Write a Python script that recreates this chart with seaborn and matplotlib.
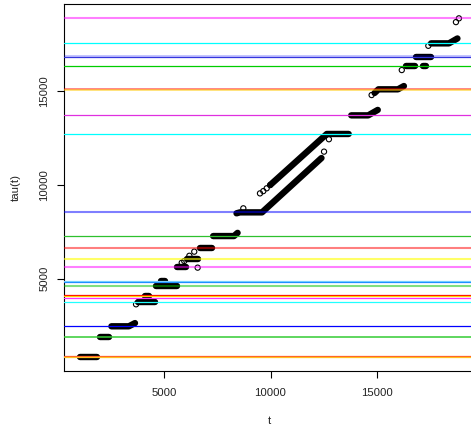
import matplotlib
matplotlib.use("Agg")
import matplotlib.pyplot as plt
import pandas as pd
import seaborn as sns

# Dense runs of tau(t): each run is a polyline through its vertices
run_id = [1, 1,
          2, 2,
          3, 3, 3,
          4, 4,
          5, 5,
          6, 6,
          7, 7,
          8, 8,
          9, 9,
          10, 10,
          11, 11, 11,
          12, 12, 12, 12,
          13, 13, 13,
          14, 14, 14,
          15, 15, 15, 15,
          16, 16,
          17, 17,
          18, 18,
          19, 19, 19]
run_t = [1040, 1820,
         1980, 2420,
         2510, 3330, 3620,
         3770, 4570,
         4090, 4260,
         4600, 5590,
         4860, 5050,
         5620, 6030,
         6050, 6610,
         6670, 7240,
         7300, 8280, 8450,
         8400, 8560, 9600, 12400,
         10000, 12650, 13680,
         13800, 14600, 15050,
         14900, 15080, 16000, 16280,
         16370, 16800,
         17190, 17310,
         16840, 17550,
         17560, 18400, 18800]
run_tau = [850, 850,
           1890, 1890,
           2470, 2470, 2640,
           3760, 3760,
           4100, 4100,
           4590, 4590,
           4870, 4870,
           5600, 5600,
           6060, 6060,
           6650, 6650,
           7270, 7270, 7440,
           8480, 8530, 8530, 11420,
           10000, 12700, 12700,
           13690, 13690, 13980,
           14880, 15075, 15075, 15250,
           16290, 16290,
           16290, 16290,
           16810, 16810,
           17520, 17520, 17780]

# Isolated observations
pt_t = [3670, 5820, 5940, 6180, 6410, 6570, 8720, 9505, 9660, 9820, 9980,
        12520, 12750, 14760, 16180, 17430, 18730, 18870]
pt_tau = [3640, 5850, 5940, 6220, 6440, 5590, 8745, 9540, 9660, 9810, 9980,
          11760, 12420, 14770, 16100, 17390, 18650, 18850]

# Reference levels
level_tau = [18867, 17521, 16840, 16775, 16298, 15106, 15040, 13691, 12681,
             8532, 7271, 6649, 6064, 5606, 4870, 4835, 4596, 4133, 4085,
             3973, 3777, 2468, 1883, 870, 820]

# Line styles for the levels (colour, opacity, width)
level_color = ["#FF00FF", "#00FFFF", "#0000FF", "#3535DD", "#00CD00",
               "#FF0000", "#FFC800", "#E030E0", "#00FFFF",
               "#0000FF", "#2EC02E", "#FF0000", "#FFFF00", "#FF00FF",
               "#7FD8FF", "#1E90FF", "#00C000", "#FF0000", "#FFD000",
               "#FF30FF", "#20FFFF", "#0000FF", "#33CC33", "#FF5A28", "#FFC020"]
level_alpha = [0.5, 1, 0.3, 1, 1, 0.55, 0.6, 1, 1,
               0.5, 1, 0.5, 0.6, 0.5, 1, 1, 0.5, 1, 1,
               1, 1, 1, 1, 1, 1]
level_width = [1.5, 0.9, 1.1, 0.9, 0.9, 1.2, 1.2, 0.9, 0.9,
               1.5, 0.9, 1.5, 1.5, 1.5, 0.9, 0.9, 1.5, 0.9, 0.9,
               0.9, 0.9, 0.9, 1.1, 0.9, 0.9]

x_ticks = [5000, 10000, 15000]
y_ticks = [5000, 10000, 15000]

sns.set_theme(style="white")
plt.rcParams["font.family"] = ["Liberation Sans", "DejaVu Sans"]

W, H = 471, 428
fig = plt.figure(figsize=(W / 100, H / 100), dpi=100)
left_px, right_px, top_px, bottom_px = 64.15, 474.1, 4.4, 370.7
ax = fig.add_axes([left_px / W, 1 - bottom_px / H,
                   (right_px - left_px) / W, (bottom_px - top_px) / H])
ax.set_facecolor("white")

runs = pd.DataFrame({"run": run_id, "t": run_t, "tau": run_tau})
sns.lineplot(data=runs, x="t", y="tau", units="run", estimator=None,
             sort=False, color="black", linewidth=4.6,
             solid_capstyle="round", solid_joinstyle="round", ax=ax,
             zorder=2)

pts = pd.DataFrame({"t": pt_t, "tau": pt_tau})
sns.scatterplot(data=pts, x="t", y="tau", marker="o", s=14,
                facecolors="none", edgecolor="black", linewidth=0.8,
                ax=ax, zorder=3)

for y, c, a, w in zip(level_tau, level_color, level_alpha, level_width):
    ax.axhline(y, color=c, alpha=a, linewidth=w, zorder=4)

ax.set_xlim(285, 19585)
ax.set_ylim(108, 19592)
ax.set_xticks(x_ticks)
ax.set_yticks(y_ticks)
ax.set_xticklabels([str(v) for v in x_ticks])
ax.set_yticklabels([str(v) for v in y_ticks], rotation=90, va="center")
ax.set_xlabel("")
ax.set_ylabel("")

for side in ["left", "bottom", "top", "right"]:
    ax.spines[side].set_visible(True)
    ax.spines[side].set_color("black")
    ax.spines[side].set_linewidth(0.8)

ax.tick_params(axis="both", which="major", direction="out", length=4.7,
               width=0.8, color="black", labelsize=8.2, labelcolor="#222222",
               bottom=True, left=True, top=False, right=False)
ax.tick_params(axis="x", pad=7.5)
ax.tick_params(axis="y", pad=6.0)

fig.text((left_px + right_px) / 2 / W, 1 - 421 / H, "t", ha="center",
         va="center", fontsize=8.2, color="#222222")
fig.text(16 / W, 1 - (top_px + bottom_px) / 2 / H, "tau(t)", ha="center",
         va="center", rotation=90, fontsize=8.2, color="#222222")

fig.savefig("out.png", dpi=100, facecolor="white")
